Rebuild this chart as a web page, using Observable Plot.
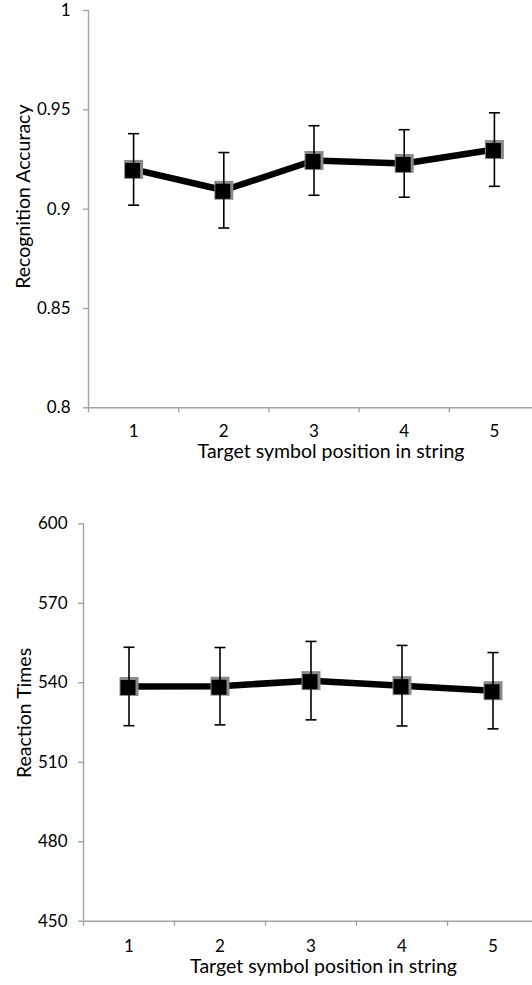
<!DOCTYPE html>
<html>
<head>
<meta charset="utf-8">
<script src="https://cdn.jsdelivr.net/npm/d3@7"></script>
<script src="https://cdn.jsdelivr.net/npm/@observablehq/plot@0.6"></script>
<style>
  html, body { margin: 0; padding: 0; background: #fff; }
  .wrap { width: 532px; overflow: hidden; position: absolute; left: 0; }
  .wrap svg { max-width: none !important; }
</style>
</head>
<body>
<div id="top" class="wrap" style="top:0"></div>
<div id="bottom" class="wrap" style="top:490px"></div>
<script>
// ---- data ----
const positions = [1, 2, 3, 4, 5];
const accuracy = [0.920, 0.9095, 0.9245, 0.923, 0.930];
const accuracyErr = [0.018, 0.019, 0.0175, 0.017, 0.0185];
const reactionTimes = [538.6, 538.7, 540.8, 538.9, 537.0];
const reactionErr = [14.8, 14.6, 14.8, 15.2, 14.4];
const accTicks = [0.8, 0.85, 0.9, 0.95, 1];
const rtTicks = [450, 480, 510, 540, 570, 600];
const xTitle = "Target symbol position in string";
const accTitle = "Recognition Accuracy";
const rtTitle = "Reaction Times";

const FONT = "Lato, 'Noto Sans', sans-serif";
const AXIS = "#a3a3a3";
const TICK_FS = 17;
const TITLE_FS = 19.5;
const capSymbol = {draw(ctx) { ctx.moveTo(-5.5, 0); ctx.lineTo(5.5, 0); }};

function chart({values, errs, yDomain, yTicks, yTitle, width, height, mt, mb, ml, yPad, xPad, titleDx, titleDy, yTitleDx, yTitleDy}) {
  const data = positions.map((p, i) => ({x: p, y: values[i], lo: values[i] - errs[i], hi: values[i] + errs[i]}));
  const bounds = [0.5, 1.5, 2.5, 3.5, 4.5, 5.5];
  return Plot.plot({
    width, height,
    marginTop: mt, marginBottom: mb, marginLeft: ml, marginRight: 0,
    style: {fontFamily: FONT, fontSize: TICK_FS + "px", color: "#000", background: "#fff", maxWidth: "none"},
    x: {domain: [0.5, 5.5], axis: null},
    y: {domain: yDomain, axis: null},
    marks: [
      Plot.ruleY([yDomain[0]], {stroke: AXIS, strokeWidth: 1.4}),
      Plot.ruleX([0.5], {stroke: AXIS, strokeWidth: 1.4}),
      Plot.axisY({ticks: yTicks, tickFormat: d => String(d), tickSize: 5, tickPadding: yPad, stroke: AXIS, strokeWidth: 1.4, label: null, fill: "#000", fontSize: TICK_FS}),
      Plot.axisX({ticks: bounds, tickFormat: () => "", tickSize: 5, stroke: AXIS, strokeWidth: 1.4, label: null}),
      Plot.axisX({ticks: positions, tickFormat: d => String(d), tickSize: 0, tickPadding: xPad, label: null, fill: "#000", fontSize: TICK_FS}),
      Plot.text([xTitle], {text: d => d, frameAnchor: "bottom", textAnchor: "middle", lineAnchor: "bottom", dx: titleDx, dy: titleDy, fill: "#000", fontSize: TITLE_FS}),
      Plot.text([yTitle], {text: d => d, frameAnchor: "left", textAnchor: "middle", lineAnchor: "middle", rotate: -90, dx: yTitleDx, dy: yTitleDy, fill: "#000", fontSize: TITLE_FS}),
      Plot.line(data, {x: "x", y: "y", stroke: "#000", strokeWidth: 6.5, strokeLinejoin: "round"}),
      Plot.dot(data, {x: "x", y: "y", symbol: "square", r: 19 / Math.sqrt(Math.PI), fill: "#8a8a8a", stroke: "none"}),
      Plot.dot(data, {x: "x", y: "y", symbol: "square", r: 15 / Math.sqrt(Math.PI), fill: "#000", stroke: "none", dx: -1, dy: 1}),
      Plot.ruleX(data, {x: "x", y1: "lo", y2: "hi", stroke: "#000", strokeWidth: 1.6}),
      Plot.dot(data, {x: "x", y: "lo", symbol: capSymbol, stroke: "#000", strokeWidth: 1.6, fill: "none"}),
      Plot.dot(data, {x: "x", y: "hi", symbol: capSymbol, stroke: "#000", strokeWidth: 1.6, fill: "none"})
    ]
  });
}

document.getElementById("top").append(chart({
  values: accuracy, errs: accuracyErr, yDomain: [0.8, 1], yTicks: accTicks, yTitle: accTitle,
  width: 539, height: 490, mt: 10, mb: 82.7, ml: 88, yPad: 13, xPad: 17.3,
  titleDx: 17, titleDy: 50.4, yTitleDx: -64.5, yTitleDy: -12.5
}));
document.getElementById("bottom").append(chart({
  values: reactionTimes, errs: reactionErr, yDomain: [450, 600], yTicks: rtTicks, yTitle: rtTitle,
  width: 538, height: 495, mt: 33.3, mb: 64.3, ml: 83, yPad: 11, xPad: 18.9,
  titleDx: 12.5, titleDy: 52, yTitleDx: -59, yTitleDy: -9.5
}));
</script>
</body>
</html>
